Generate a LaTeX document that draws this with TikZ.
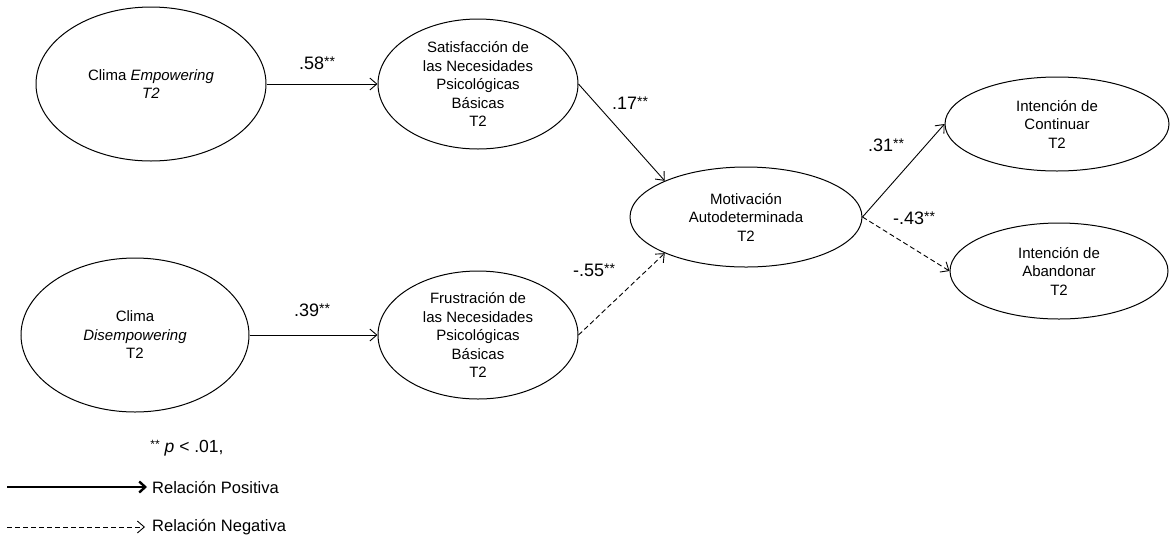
\documentclass[tikz,border=0pt]{standalone}
\usepackage{fontspec}
\setmainfont{Liberation Sans}
\usetikzlibrary{arrows.meta,shapes.geometric}

% significance stars set small and raised
\newcommand\sigstars{{\fontsize{14}{14}\selectfont\raisebox{0.2em}{**}}}
\newcommand\notestars{{\fontsize{12}{12}\selectfont\raisebox{0.3em}{**}}}

\begin{document}
\begin{tikzpicture}[x=1pt,y=-1pt,
  latent/.style={ellipse,draw,line width=1pt,inner sep=0pt,align=center,
    font=\fontsize{15}{18.5}\selectfont},
  coef/.style={inner sep=0pt,font=\fontsize{18}{20}\selectfont},
  posarrow/.style={-{Straight Barb[length=7pt,width=12pt]},line width=0.9pt},
  negarrow/.style={posarrow,dash pattern=on 5pt off 3pt},
  legendtext/.style={anchor=west,inner sep=0pt,font=\fontsize{16.5}{20}\selectfont}]

\useasboundingbox (0,0) rectangle (1170,542);

% latent variables
\node[latent,minimum width=230pt,minimum height=154pt] (emp) at (151,84)
  {Clima \textit{Empowering}\\\textit{T2}};
\node[latent,minimum width=200pt,minimum height=130pt] (sat) at (478,84)
  {Satisfacción de\\las Necesidades\\Psicológicas\\Básicas\\T2};
\node[latent,minimum width=228pt,minimum height=154pt] (dis) at (135,335)
  {Clima\\\textit{Disempowering}\\T2};
\node[latent,minimum width=200pt,minimum height=128pt] (fru) at (478,335)
  {Frustración de\\las Necesidades\\Psicológicas\\Básicas\\T2};
\node[latent,minimum width=232pt,minimum height=100pt] (mot) at (746,217)
  {Motivación\\Autodeterminada\\T2};
\node[latent,minimum width=224pt,minimum height=94pt] (con) at (1057,124)
  {Intención de\\Continuar\\T2};
\node[latent,minimum width=218pt,minimum height=96pt] (aba) at (1059,271)
  {Intención de\\Abandonar\\T2};

% paths
\draw[posarrow] (emp.east) -- (sat.west);
\draw[posarrow] (dis.east) -- (fru.west);
\draw[posarrow] (sat.east) -- (mot.156);
\draw[negarrow] (fru.east) -- (mot.204);
\draw[posarrow] (mot.east) -- (con.west);
\draw[negarrow] (mot.east) -- (aba.west);

% coefficients
\node[coef] (c1) at (317,63) {.58\sigstars};
\node[coef] (c2) at (630,103) {.17\sigstars};
\node[coef] (c3) at (312,310) {.39\sigstars};
\node[coef] (c4) at (594,270) {-.55\sigstars};
\node[coef] (c5) at (886,145) {.31\sigstars};
\node[coef] (c6) at (914,218) {-.43\sigstars};

% legend
\node[inner sep=0pt,font=\fontsize{17.5}{20}\selectfont] (note) at (187,448)
  {\notestars\ \textit{p} < .01,};
\coordinate (pa) at (7,487);
\coordinate (pb) at (147,487);
\draw[-{Straight Barb[length=6pt,width=11pt]},line width=2.4pt] (pa) -- (pb);
\node[legendtext] (lp) at (152,487) {Relación Positiva};
\coordinate (na) at (7,527);
\coordinate (nb) at (145,527);
\draw[negarrow] (na) -- (nb);
\node[legendtext] (ln) at (152,527) {Relación Negativa};
\end{tikzpicture}
\end{document}
